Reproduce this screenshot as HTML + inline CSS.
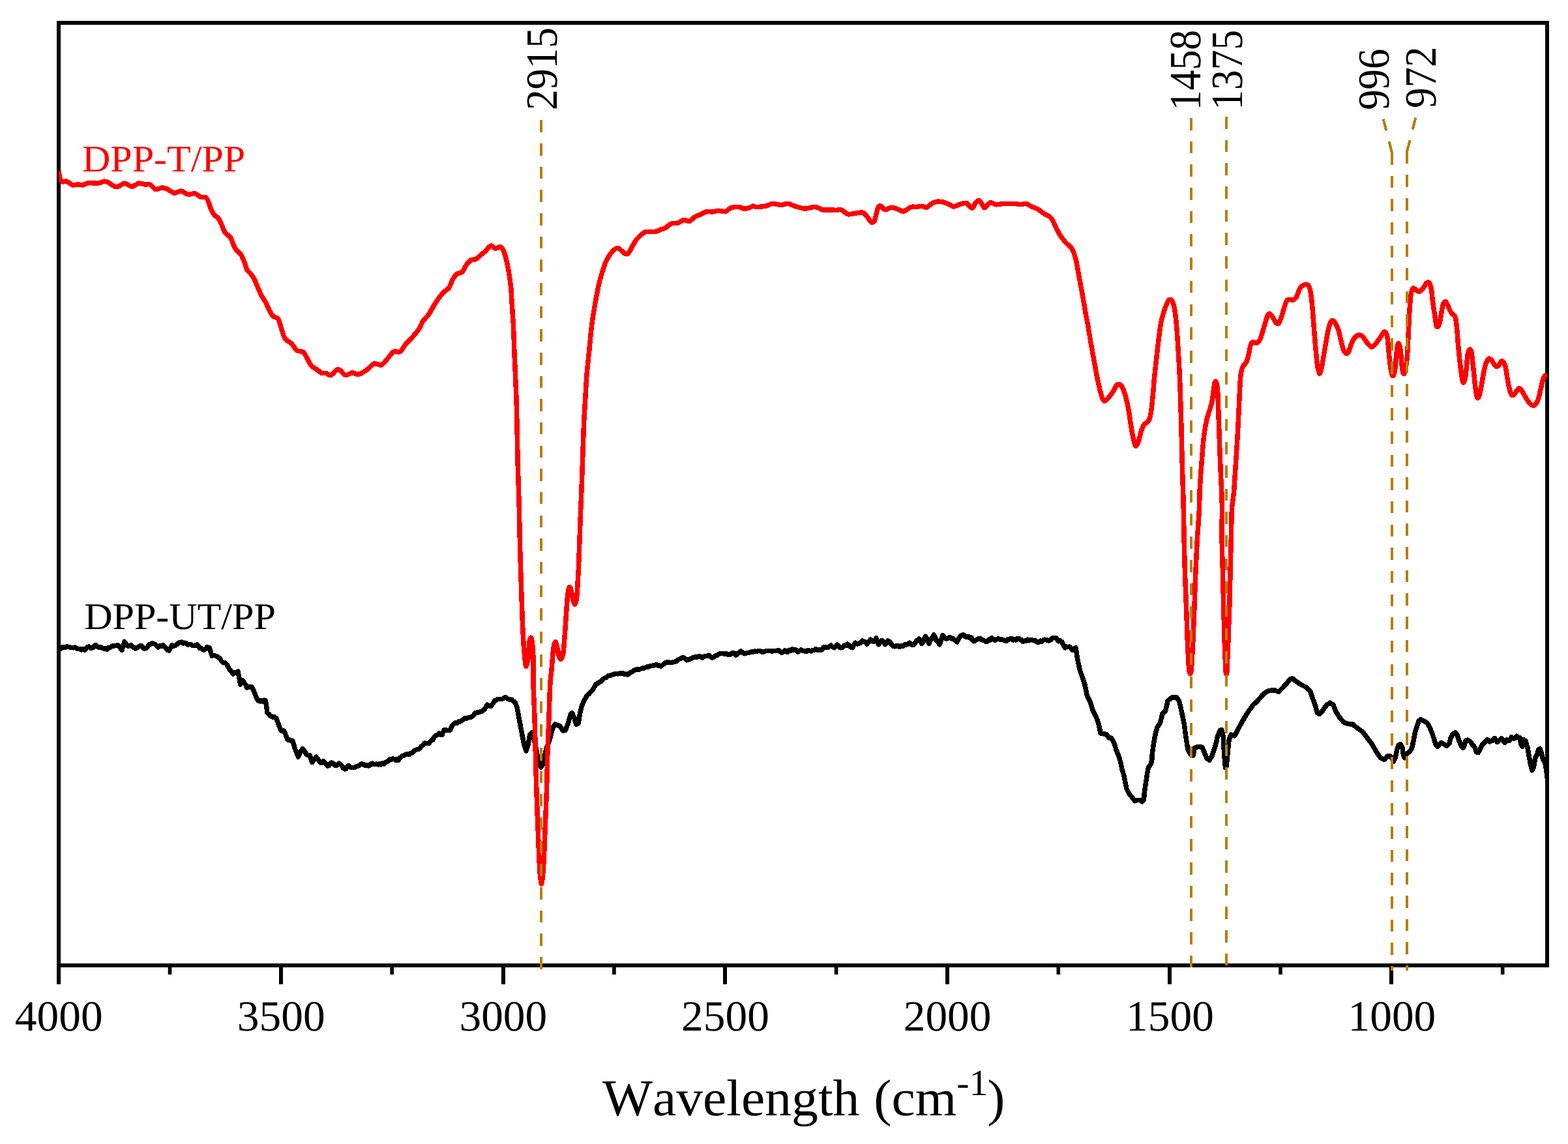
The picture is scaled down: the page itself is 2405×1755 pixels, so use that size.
<!DOCTYPE html>
<html lang="en"><head><meta charset="utf-8"><title>FTIR spectra of DPP-T/PP and DPP-UT/PP</title>
<style>
html,body{margin:0;padding:0;background:#fff;}
body{width:2405px;height:1755px;overflow:hidden;}
svg{display:block;}
text{font-family:"Liberation Serif", serif;font-kerning:none;font-variant-ligatures:none;text-rendering:geometricPrecision;}
.tk{font-size:66.2px;text-anchor:middle;fill:#000;}
.pk{font-size:68.6px;fill:#000;}
.lb{font-size:57.8px;}
.ttl{font-size:79.3px;fill:#000;}
.sup{font-size:55.0px;}
.ax{stroke:#000;fill:none;shape-rendering:crispEdges;}
.cv{fill:none;stroke-width:7.5;stroke-linejoin:round;stroke-linecap:butt;shape-rendering:crispEdges;}
.ds{fill:none;stroke:#b87d08;stroke-width:4.1;stroke-dasharray:18.6 17.06;shape-rendering:crispEdges;}
</style></head><body>
<svg width="2405" height="1755" viewBox="0 0 2405 1755" role="img" aria-label="FTIR spectra">
<rect x="0" y="0" width="2405" height="1755" fill="#fff"/>
<g id="axes">
<rect class="ax" x="90.2" y="35.2" width="2282.8" height="1445.7" stroke-width="5.9"/>
<rect x="87" y="1478" width="6" height="32" fill="#000" shape-rendering="crispEdges"/>
<rect x="257.7" y="1478" width="5.6" height="17" fill="#000"/>
<rect x="428" y="1478" width="6" height="32" fill="#000" shape-rendering="crispEdges"/>
<rect x="598.4" y="1478" width="5.6" height="17" fill="#000"/>
<rect x="769" y="1478" width="6" height="32" fill="#000" shape-rendering="crispEdges"/>
<rect x="939.1" y="1478" width="5.6" height="17" fill="#000"/>
<rect x="1109" y="1478" width="6" height="32" fill="#000" shape-rendering="crispEdges"/>
<rect x="1279.8" y="1478" width="5.6" height="17" fill="#000"/>
<rect x="1450" y="1478" width="6" height="32" fill="#000" shape-rendering="crispEdges"/>
<rect x="1620.5" y="1478" width="5.6" height="17" fill="#000"/>
<rect x="1791" y="1478" width="6" height="32" fill="#000" shape-rendering="crispEdges"/>
<rect x="1961.2" y="1478" width="5.6" height="17" fill="#000"/>
<rect x="2131" y="1478" width="6" height="32" fill="#000" shape-rendering="crispEdges"/>
<rect x="2301.9" y="1478" width="5.6" height="17" fill="#000"/>
</g>
<g id="ticklabels">
<text class="tk" transform="translate(90.20 1580.90) scale(1.0180 1)">4000</text>
<text class="tk" transform="translate(431.22 1580.90) scale(1.0180 1)">3500</text>
<text class="tk" transform="translate(771.83 1580.90) scale(1.0180 1)">3000</text>
<text class="tk" transform="translate(1112.45 1580.90) scale(1.0180 1)">2500</text>
<text class="tk" transform="translate(1453.07 1580.90) scale(1.0180 1)">2000</text>
<text class="tk" transform="translate(1794.48 1580.90) scale(1.0180 1)">1500</text>
<text class="tk" transform="translate(2134.90 1580.90) scale(1.0180 1)">1000</text>
</g>
<text id="xtitle" class="ttl" transform="translate(924.00 1710.50) scale(1.0295 1)">Wavelength <tspan x="404.30">(cm</tspan><tspan x="527.60" dy="-30.90" style="font-size:56.5px">-1</tspan><tspan x="573.38" dy="30.90">)</tspan></text>
<defs><clipPath id="plot"><rect x="90.2" y="35.2" width="2283.4" height="1445.7"/></clipPath></defs>
<g id="curves" clip-path="url(#plot)">
<path class="cv" stroke="#000" d="M91.2 997.5 L93.1 995.1 L95.0 993.0 L97.5 992.8 L100.0 993.6 L102.5 992.0 L105.0 992.3 L107.5 992.9 L110.0 993.6 L112.5 993.8 L115.0 993.2 L117.5 994.7 L120.0 995.5 L122.5 995.5 L125.0 997.0 L127.5 995.6 L130.0 997.5 L131.9 994.7 L133.8 993.0 L136.2 992.0 L138.8 994.4 L141.2 993.8 L143.3 993.1 L145.4 989.9 L147.5 990.0 L150.0 992.4 L152.5 993.4 L155.0 993.0 L157.2 994.3 L159.4 995.0 L161.6 994.4 L163.8 996.2 L166.2 993.5 L168.8 993.8 L171.2 991.2 L173.8 991.2 L175.9 990.3 L178.1 990.5 L180.3 989.8 L182.5 991.2 L184.8 994.3 L187.0 997.5 L190.8 984.2 L192.9 987.2 L195.0 990.5 L197.1 991.4 L199.2 990.2 L201.2 990.0 L203.3 992.1 L205.4 993.3 L207.5 995.0 L210.0 994.0 L212.5 991.9 L215.0 990.5 L217.2 990.8 L219.4 994.0 L221.6 995.0 L223.8 994.5 L226.2 992.6 L228.8 988.8 L230.8 988.8 L232.9 987.0 L235.0 987.0 L237.5 988.2 L240.0 990.4 L242.5 993.0 L245.0 990.5 L247.5 991.5 L250.0 989.5 L252.5 992.0 L255.0 995.0 L257.2 997.5 L259.5 998.0 L261.6 993.7 L263.8 990.0 L266.2 991.0 L268.8 990.2 L271.2 988.8 L273.8 986.0 L276.2 985.4 L278.8 985.0 L281.2 986.9 L283.8 986.2 L286.2 987.0 L288.4 989.3 L290.6 988.4 L292.8 988.3 L295.0 990.5 L297.5 990.3 L300.0 990.2 L302.5 988.8 L304.4 990.9 L306.2 994.5 L308.3 994.1 L310.4 995.7 L312.5 997.0 L315.0 996.1 L317.5 992.5 L319.4 993.9 L321.2 993.8 L325.0 1006.2 L327.5 1005.4 L330.0 1006.0 L332.5 1007.0 L335.0 1008.3 L337.5 1010.7 L340.0 1014.5 L342.5 1016.8 L345.0 1016.4 L347.5 1018.8 L350.0 1023.3 L352.5 1027.5 L355.0 1030.5 L357.5 1033.8 L360.0 1031.6 L362.5 1031.9 L365.0 1030.0 L368.8 1050.0 L370.6 1045.8 L372.5 1043.8 L374.6 1047.9 L376.7 1050.1 L378.8 1055.0 L381.2 1054.3 L383.8 1053.3 L386.2 1053.8 L388.8 1058.7 L391.2 1065.0 L393.8 1071.4 L396.2 1075.0 L398.5 1075.9 L400.8 1074.4 L403.0 1076.2 L405.2 1074.1 L407.5 1075.0 L410.0 1093.8 L412.1 1095.1 L414.2 1098.1 L416.2 1098.8 L418.8 1100.3 L421.2 1099.7 L423.8 1102.0 L430.0 1118.8 L432.1 1121.5 L434.2 1120.4 L436.2 1122.5 L441.2 1135.0 L443.8 1134.7 L446.2 1136.7 L448.8 1136.2 L452.5 1148.8 L457.5 1161.2 L459.6 1156.6 L461.7 1152.3 L463.8 1148.8 L465.8 1150.4 L467.9 1153.4 L470.0 1157.5 L472.5 1158.4 L475.0 1158.8 L478.8 1169.5 L480.8 1166.0 L482.9 1164.3 L485.0 1161.2 L487.1 1163.8 L489.2 1166.9 L491.2 1170.0 L493.8 1170.1 L496.2 1167.5 L498.3 1170.0 L500.4 1172.7 L502.5 1175.0 L504.6 1174.4 L506.7 1170.7 L508.8 1170.0 L511.2 1171.2 L513.8 1174.5 L515.8 1174.6 L517.9 1173.3 L520.0 1171.2 L522.2 1172.7 L524.4 1174.7 L526.6 1178.5 L528.8 1180.0 L530.8 1179.5 L532.9 1175.4 L535.0 1174.5 L537.5 1176.9 L540.0 1177.6 L542.5 1177.5 L545.0 1177.0 L547.5 1175.6 L550.0 1175.0 L552.5 1173.0 L555.0 1171.9 L557.5 1172.5 L560.0 1174.7 L562.5 1173.4 L565.0 1175.0 L567.1 1174.4 L569.2 1171.8 L571.2 1171.2 L573.4 1172.7 L575.6 1172.4 L577.8 1171.9 L580.0 1173.0 L582.2 1171.8 L584.4 1173.2 L586.6 1171.0 L588.8 1172.0 L590.9 1169.4 L593.1 1168.7 L595.3 1167.8 L597.5 1165.0 L600.0 1165.2 L602.5 1164.0 L605.0 1164.5 L607.1 1166.3 L609.2 1164.8 L611.2 1166.2 L613.3 1162.5 L615.4 1161.1 L617.5 1159.5 L620.0 1158.8 L622.5 1157.2 L625.0 1157.0 L627.5 1157.5 L629.6 1155.9 L631.7 1155.2 L633.8 1153.8 L635.8 1151.2 L637.9 1150.5 L640.0 1149.5 L642.1 1149.2 L644.2 1147.9 L646.2 1145.0 L648.8 1143.0 L651.2 1140.0 L653.3 1140.7 L655.4 1140.6 L657.5 1140.5 L659.6 1138.0 L661.7 1136.0 L663.8 1135.0 L665.6 1131.0 L667.5 1128.8 L669.6 1128.2 L671.7 1126.6 L673.8 1125.0 L675.9 1127.1 L678.0 1127.5 L681.2 1120.0 L683.4 1119.3 L685.6 1120.5 L687.8 1120.3 L690.0 1120.5 L691.9 1116.9 L693.8 1112.5 L696.2 1110.3 L698.8 1108.8 L701.2 1109.1 L703.8 1106.8 L706.2 1107.0 L708.3 1105.4 L710.4 1104.1 L712.5 1102.0 L714.8 1102.2 L717.0 1101.4 L719.2 1100.9 L721.5 1100.5 L723.8 1099.5 L726.2 1097.4 L728.8 1093.8 L731.2 1092.9 L733.8 1092.9 L736.2 1092.0 L738.8 1091.2 L741.2 1089.7 L743.8 1087.5 L745.6 1084.2 L747.5 1081.2 L749.6 1082.4 L751.7 1083.1 L753.8 1083.0 L756.2 1079.1 L758.8 1075.0 L761.2 1074.0 L763.8 1072.5 L765.8 1072.3 L767.9 1072.6 L770.0 1072.5 L772.1 1071.4 L774.2 1070.0 L776.5 1070.2 L778.8 1072.0 L780.8 1072.7 L782.9 1073.7 L785.0 1073.2 L787.5 1076.1 L790.0 1077.5 L793.0 1085.0 L796.2 1102.5 L800.0 1122.5 L803.8 1142.5 L807.0 1152.0 L810.0 1142.5 L812.5 1127.5 L815.8 1123.8 L818.8 1132.5 L822.5 1150.0 L826.2 1170.0 L830.0 1177.0 L833.8 1170.0 L837.5 1150.0 L843.8 1132.5 L847.5 1117.5 L851.2 1111.2 L858.8 1113.8 L863.8 1121.2 L867.5 1120.0 L872.0 1107.5 L875.0 1096.2 L877.5 1093.8 L880.5 1100.0 L883.8 1111.2 L887.0 1110.0 L890.0 1092.5 L892.5 1082.5 L896.2 1073.8 L901.2 1066.2 L903.8 1064.1 L906.2 1061.1 L908.8 1058.8 L911.2 1054.7 L913.8 1050.0 L915.8 1048.9 L917.9 1047.4 L920.0 1046.2 L922.5 1044.8 L925.0 1041.6 L927.5 1040.2 L930.0 1039.4 L932.5 1037.0 L935.0 1036.5 L937.5 1035.8 L940.0 1034.8 L942.5 1034.0 L945.0 1033.3 L947.5 1033.8 L950.0 1033.2 L952.5 1033.2 L955.0 1032.8 L957.5 1034.2 L960.0 1034.1 L962.5 1035.2 L965.0 1032.8 L967.5 1031.6 L970.0 1030.5 L972.5 1028.5 L975.0 1027.4 L977.5 1026.7 L980.0 1027.2 L982.5 1026.2 L985.0 1025.2 L987.5 1025.2 L990.0 1024.0 L992.3 1023.1 L994.6 1023.0 L997.0 1021.6 L999.3 1021.3 L1001.6 1021.2 L1003.9 1020.8 L1006.2 1019.5 L1008.8 1020.9 L1011.2 1021.0 L1013.8 1022.0 L1016.2 1020.3 L1018.8 1018.1 L1021.2 1016.5 L1023.5 1015.7 L1025.8 1016.1 L1028.1 1016.4 L1030.4 1016.2 L1032.7 1015.8 L1035.0 1015.2 L1037.5 1014.6 L1040.0 1012.2 L1042.5 1010.7 L1045.0 1009.8 L1047.5 1008.5 L1049.6 1009.6 L1051.7 1010.9 L1053.8 1012.8 L1055.9 1011.7 L1058.1 1011.1 L1060.3 1009.9 L1062.5 1009.0 L1065.0 1008.1 L1067.5 1008.3 L1070.0 1007.8 L1072.5 1006.5 L1075.0 1007.7 L1077.5 1009.0 L1079.7 1007.4 L1081.9 1006.4 L1084.1 1006.7 L1086.2 1005.2 L1088.3 1005.8 L1090.4 1008.1 L1092.5 1009.0 L1095.0 1007.7 L1097.5 1006.0 L1100.0 1005.3 L1102.5 1003.5 L1105.0 1002.5 L1107.5 1002.5 L1110.0 1002.8 L1112.5 1003.3 L1115.0 1003.2 L1117.5 1004.5 L1120.0 1004.0 L1122.5 1002.1 L1125.0 1001.5 L1126.9 1002.8 L1128.8 1005.2 L1131.2 1002.5 L1133.8 1001.3 L1136.2 999.0 L1138.8 1000.8 L1141.2 1002.8 L1143.5 1002.3 L1145.8 1001.8 L1148.0 1001.4 L1150.2 1001.0 L1152.5 999.8 L1155.0 1000.3 L1157.5 998.8 L1160.0 999.7 L1162.5 998.8 L1165.0 998.3 L1167.5 999.7 L1170.0 1000.4 L1172.5 999.8 L1175.0 998.5 L1177.5 998.6 L1180.0 998.5 L1182.5 998.8 L1184.8 999.1 L1187.0 998.3 L1189.2 998.3 L1191.5 998.5 L1193.8 997.5 L1196.2 999.1 L1198.8 1001.2 L1201.2 1000.5 L1203.8 998.0 L1206.2 1000.2 L1208.8 1000.0 L1210.8 997.3 L1212.9 998.5 L1215.0 995.8 L1217.5 997.0 L1220.0 997.0 L1221.9 997.4 L1223.8 1000.0 L1226.2 998.4 L1228.8 997.0 L1231.2 998.3 L1233.8 998.8 L1236.2 999.7 L1238.8 997.9 L1241.2 998.2 L1243.8 998.9 L1246.2 997.5 L1248.8 997.4 L1251.2 995.5 L1253.8 997.5 L1256.2 996.7 L1258.8 997.5 L1260.8 996.3 L1262.9 993.3 L1265.0 992.5 L1267.1 993.2 L1269.2 993.5 L1271.2 992.5 L1274.5 990.0 L1277.0 992.3 L1279.5 993.8 L1281.6 992.2 L1283.8 989.2 L1286.2 990.6 L1288.8 993.8 L1290.8 993.7 L1292.9 992.7 L1295.0 990.0 L1297.5 990.6 L1300.0 988.2 L1302.5 990.2 L1305.0 992.8 L1307.5 993.8 L1309.8 989.5 L1312.0 986.2 L1314.8 987.9 L1317.5 987.0 L1320.2 986.1 L1323.0 983.0 L1325.3 984.2 L1327.7 985.1 L1330.0 988.0 L1332.5 984.4 L1335.0 981.2 L1337.5 983.0 L1340.0 984.5 L1341.9 982.4 L1343.8 978.8 L1347.5 988.8 L1350.0 985.6 L1352.5 982.5 L1355.0 984.2 L1357.5 988.8 L1359.8 986.8 L1362.0 983.0 L1364.8 984.6 L1367.5 988.8 L1370.0 991.1 L1372.5 991.8 L1375.0 990.7 L1377.5 991.1 L1380.0 992.3 L1382.5 990.3 L1385.0 991.2 L1387.5 988.9 L1390.0 988.8 L1392.5 988.2 L1395.0 986.2 L1397.8 988.9 L1400.5 989.5 L1403.4 986.6 L1406.2 982.5 L1408.1 982.6 L1410.0 980.0 L1411.9 983.7 L1413.8 987.5 L1416.6 983.2 L1419.5 976.2 L1422.2 980.6 L1425.0 987.5 L1427.2 982.3 L1429.5 978.8 L1432.5 973.8 L1434.4 978.2 L1436.2 982.5 L1438.8 985.0 L1441.2 988.8 L1445.8 974.5 L1448.5 977.9 L1451.2 980.0 L1453.8 979.2 L1456.2 977.5 L1458.3 978.4 L1460.4 980.2 L1462.5 980.0 L1465.2 982.7 L1468.0 985.0 L1470.2 980.1 L1472.5 976.2 L1475.0 974.6 L1477.5 973.8 L1479.6 975.9 L1481.7 977.1 L1483.8 977.0 L1485.8 976.5 L1487.9 978.9 L1490.0 978.2 L1491.9 982.4 L1493.8 983.8 L1496.2 982.4 L1498.8 981.1 L1501.2 979.5 L1503.3 979.4 L1505.4 981.3 L1507.5 982.0 L1509.6 982.8 L1511.7 984.0 L1513.8 984.5 L1516.2 981.2 L1518.8 982.1 L1521.2 978.8 L1523.8 980.7 L1526.2 982.5 L1528.8 980.7 L1531.2 979.5 L1533.3 981.0 L1535.4 980.9 L1537.5 981.2 L1539.6 981.9 L1541.7 983.2 L1543.8 983.2 L1545.8 980.7 L1547.9 980.9 L1550.0 979.5 L1552.1 979.8 L1554.2 982.0 L1556.2 981.2 L1558.3 981.9 L1560.4 979.4 L1562.5 979.5 L1564.6 981.1 L1566.7 981.7 L1568.8 984.5 L1571.2 983.2 L1573.8 983.3 L1576.2 981.2 L1578.4 982.8 L1580.6 981.8 L1582.8 981.6 L1585.0 982.5 L1587.2 982.2 L1589.4 984.1 L1591.6 985.7 L1593.8 985.0 L1595.8 983.1 L1597.9 984.2 L1600.0 982.5 L1602.2 981.2 L1604.4 981.8 L1606.6 982.1 L1608.8 983.0 L1610.8 982.1 L1612.9 979.6 L1615.0 978.8 L1617.5 978.3 L1620.0 978.8 L1621.9 981.6 L1623.8 983.8 L1626.2 982.9 L1628.8 984.5 L1631.2 989.8 L1633.8 993.8 L1635.8 992.0 L1637.9 992.6 L1640.0 992.0 L1642.5 994.0 L1645.0 997.5 L1647.5 994.7 L1650.0 993.8 L1652.5 1010.0 L1656.2 1027.5 L1660.0 1038.8 L1663.8 1050.0 L1667.5 1067.5 L1672.5 1077.5 L1676.2 1090.0 L1681.2 1100.0 L1685.0 1110.0 L1688.0 1125.0 L1690.0 1125.5 L1697.0 1126.5 L1701.0 1132.0 L1704.4 1132.0 L1708.9 1140.0 L1711.9 1149.9 L1715.9 1159.9 L1718.9 1169.9 L1720.9 1179.9 L1723.9 1189.9 L1725.9 1199.9 L1727.9 1209.9 L1731.9 1217.9 L1736.9 1223.8 L1740.9 1228.8 L1744.9 1227.3 L1748.9 1227.3 L1751.9 1229.8 L1754.4 1226.8 L1755.4 1214.9 L1756.9 1204.9 L1758.4 1194.9 L1759.9 1184.9 L1761.4 1177.9 L1765.4 1171.9 L1766.9 1164.9 L1767.4 1154.9 L1768.9 1144.9 L1770.4 1135.0 L1772.4 1125.0 L1774.9 1116.0 L1778.9 1110.0 L1781.9 1100.0 L1782.5 1095.0 L1787.5 1091.2 L1791.2 1075.0 L1797.5 1070.0 L1805.0 1070.0 L1808.8 1076.2 L1812.5 1092.5 L1816.2 1110.0 L1818.8 1130.0 L1822.0 1150.0 L1826.2 1157.5 L1830.0 1158.8 L1832.5 1147.5 L1837.5 1145.5 L1843.8 1146.2 L1847.5 1155.0 L1851.2 1163.8 L1855.0 1166.2 L1858.8 1160.0 L1863.8 1145.0 L1867.5 1130.0 L1871.2 1120.5 L1873.8 1119.5 L1876.2 1130.0 L1877.5 1155.0 L1879.5 1177.5 L1881.2 1175.0 L1883.0 1155.0 L1885.0 1135.0 L1888.0 1127.0 L1893.8 1128.8 L1898.8 1118.8 L1905.0 1107.5 L1912.5 1095.0 L1921.2 1082.5 L1930.0 1073.8 L1938.8 1063.8 L1946.2 1059.5 L1955.0 1058.8 L1961.2 1061.2 L1967.5 1055.0 L1973.8 1048.0 L1978.8 1042.0 L1982.5 1040.8 L1987.5 1045.0 L1995.0 1050.0 L2002.5 1053.8 L2009.5 1060.0 L2013.8 1072.5 L2017.5 1082.5 L2020.5 1093.8 L2023.8 1095.5 L2028.8 1090.0 L2035.0 1081.2 L2040.0 1078.2 L2045.0 1081.2 L2048.8 1091.2 L2055.0 1101.2 L2061.2 1108.0 L2067.5 1110.5 L2075.0 1111.2 L2082.5 1117.5 L2090.0 1122.5 L2097.5 1132.5 L2105.0 1142.5 L2111.2 1153.8 L2117.5 1162.5 L2122.5 1165.0 L2123.8 1165.0 L2127.6 1160.5 L2130.6 1159.3 L2134.4 1162.0 L2137.4 1168.0 L2140.4 1162.0 L2142.7 1149.9 L2145.0 1143.1 L2148.0 1141.6 L2151.0 1146.9 L2152.5 1159.0 L2154.5 1162.7 L2157.8 1155.9 L2161.6 1153.7 L2165.4 1148.4 L2167.7 1137.8 L2170.7 1122.6 L2173.7 1113.6 L2176.0 1106.0 L2179.0 1103.7 L2183.6 1106.0 L2188.9 1109.0 L2192.6 1115.1 L2196.4 1124.2 L2199.4 1133.2 L2202.5 1143.1 L2204.7 1145.3 L2207.8 1142.3 L2210.8 1139.3 L2214.6 1141.6 L2219.1 1144.6 L2222.9 1140.8 L2225.2 1131.7 L2228.2 1126.4 L2232.0 1123.7 L2235.0 1127.2 L2238.0 1136.3 L2241.1 1143.8 L2244.1 1147.6 L2246.4 1142.3 L2247.9 1136.3 L2250.9 1135.2 L2254.7 1137.0 L2258.5 1142.3 L2262.3 1146.9 L2264.5 1153.7 L2267.5 1154.4 L2270.6 1148.4 L2273.6 1142.3 L2275.5 1140.5 L2277.4 1138.5 L2279.3 1136.5 L2281.2 1134.7 L2283.1 1136.0 L2285.0 1137.8 L2286.8 1136.9 L2288.7 1136.3 L2290.6 1134.4 L2292.5 1132.5 L2294.4 1134.9 L2296.3 1138.5 L2298.2 1136.5 L2300.1 1135.5 L2303.1 1132.5 L2305.4 1136.1 L2307.7 1139.3 L2309.5 1137.3 L2311.4 1134.7 L2313.3 1135.6 L2315.2 1136.3 L2318.2 1131.0 L2320.5 1132.7 L2322.8 1133.2 L2324.7 1131.5 L2326.6 1129.4 L2328.8 1131.2 L2331.1 1131.7 L2332.6 1140.8 L2334.9 1145.3 L2337.2 1134.7 L2340.2 1137.0 L2343.2 1148.4 L2345.5 1162.0 L2347.8 1174.1 L2350.0 1181.7 L2352.3 1177.1 L2354.6 1163.5 L2357.6 1157.4 L2359.9 1149.9 L2362.1 1148.4 L2364.4 1155.9 L2366.7 1165.0 L2369.7 1169.6 L2372.0 1183.2 L2373.0 1193.8"/>
<path class="cv" stroke="#f00" d="M90.0 262.5 C90.3 264.2 91.7 272.8 92.5 275.0 C93.3 277.2 94.9 278.3 96.2 278.8 C97.6 279.2 100.5 277.6 102.5 278.2 C104.5 278.9 109.1 283.1 111.2 283.8 C113.4 284.4 116.6 283.0 118.8 283.0 C120.9 283.0 125.2 284.1 127.5 283.8 C129.8 283.4 133.2 280.8 136.2 280.5 C139.2 280.2 146.8 281.6 150.0 281.2 C153.2 280.9 157.8 278.4 160.0 278.2 C162.2 278.1 164.1 278.9 166.2 280.0 C168.4 281.1 174.1 285.5 176.2 286.2 C178.4 287.0 180.5 286.4 182.5 285.8 C184.5 285.1 188.6 281.2 191.2 281.2 C193.9 281.3 199.7 286.2 202.5 286.2 C205.3 286.2 209.8 281.7 212.5 281.2 C215.2 280.8 220.2 282.8 222.5 283.0 C224.8 283.2 227.8 282.0 230.0 283.0 C232.2 284.0 236.2 289.8 238.8 290.5 C241.2 291.2 246.2 288.0 248.8 288.0 C251.2 288.0 255.0 289.4 257.5 290.5 C260.0 291.6 264.8 295.9 267.5 296.2 C270.2 296.6 274.7 292.7 277.5 293.0 C280.3 293.3 285.9 297.8 288.8 298.2 C291.6 298.8 296.2 296.2 298.8 296.8 C301.2 297.2 305.3 301.2 307.5 302.0 C309.7 302.8 313.5 301.8 315.0 302.5 C316.5 303.2 317.6 305.0 318.8 307.5 C319.9 310.0 322.4 318.2 323.8 321.2 C325.1 324.2 327.2 328.2 328.8 330.0 C330.2 331.8 333.5 333.0 335.0 335.0 C336.5 337.0 338.7 342.2 340.0 345.0 C341.3 347.8 343.2 353.6 345.0 356.2 C346.8 358.9 351.9 362.2 353.8 365.0 C355.6 367.8 357.4 374.8 358.8 377.5 C360.1 380.2 362.2 383.2 363.8 385.0 C365.2 386.8 368.5 388.9 370.0 391.2 C371.5 393.6 373.8 399.5 375.0 402.5 C376.2 405.5 377.1 410.9 378.8 413.8 C380.4 416.6 385.3 420.2 387.5 423.8 C389.7 427.2 393.2 436.0 395.0 440.0 C396.8 444.0 399.6 450.6 401.2 453.8 C402.9 456.9 405.8 460.6 407.5 463.8 C409.2 466.9 412.2 474.7 413.8 477.5 C415.2 480.3 417.1 483.5 418.8 485.0 C420.4 486.5 424.8 486.9 426.2 488.8 C427.8 490.6 428.8 495.2 430.0 498.8 C431.2 502.2 433.8 512.0 435.0 515.0 C436.2 518.0 437.1 519.6 438.8 521.2 C440.4 522.9 445.3 525.3 447.5 527.5 C449.7 529.7 452.7 535.8 455.0 537.5 C457.3 539.2 462.8 538.3 465.0 540.0 C467.2 541.7 469.6 547.2 471.2 550.0 C472.9 552.8 475.7 559.1 477.5 561.2 C479.3 563.4 482.8 564.8 485.0 566.2 C487.2 567.8 491.8 571.7 493.8 572.5 C495.8 573.3 498.2 572.1 500.0 572.5 C501.8 572.9 505.3 576.4 507.5 575.8 C509.7 575.1 514.4 568.6 516.2 567.5 C518.1 566.4 519.4 566.4 521.2 567.5 C523.1 568.6 527.5 575.2 530.0 575.8 C532.5 576.3 537.3 572.0 540.0 571.8 C542.7 571.5 547.0 574.8 550.0 574.2 C553.0 573.7 559.3 569.7 562.5 567.5 C565.7 565.3 570.8 559.0 573.8 558.0 C576.8 557.0 582.5 560.7 585.0 560.0 C587.5 559.3 590.0 555.2 592.5 552.5 C595.0 549.8 600.9 541.2 603.8 539.5 C606.6 537.8 611.2 541.1 613.8 539.5 C616.2 537.9 620.3 530.1 622.5 527.5 C624.7 524.9 627.3 523.0 630.0 520.0 C632.7 517.0 640.0 508.7 642.5 505.0 C645.0 501.3 646.8 495.5 648.8 492.5 C650.8 489.5 655.2 485.8 657.5 482.5 C659.8 479.2 664.1 471.0 666.2 467.5 C668.4 464.0 671.8 458.9 673.8 456.2 C675.8 453.6 679.2 449.5 681.2 447.5 C683.2 445.5 686.9 443.9 688.8 441.2 C690.6 438.6 693.3 430.3 695.0 427.5 C696.7 424.7 699.4 421.3 701.2 420.0 C703.1 418.7 706.8 419.5 708.8 417.5 C710.8 415.5 714.4 407.5 716.2 405.0 C718.1 402.5 720.7 399.8 722.5 398.8 C724.3 397.8 727.8 398.7 730.0 397.5 C732.2 396.3 736.8 391.7 738.8 390.0 C740.8 388.3 743.5 386.5 745.0 385.0 C746.5 383.5 748.8 379.8 750.0 378.8 C751.2 377.7 752.4 376.7 753.8 377.0 C755.1 377.3 758.3 381.0 760.0 381.2 C761.7 381.5 764.8 378.6 766.2 378.8 C767.8 378.9 770.1 380.7 771.2 382.5 C772.4 384.3 773.8 388.2 775.0 392.5 C776.2 396.8 778.8 408.3 780.0 415.0 C781.2 421.7 783.0 434.5 783.8 442.5 C784.5 450.5 785.2 467.3 785.8 475.0 C786.2 482.7 787.1 491.7 787.5 500.0 C787.9 508.3 788.4 527.5 788.8 537.5 C789.1 547.5 790.1 565.0 790.5 575.0 C790.9 585.0 791.6 600.8 792.0 612.5 C792.4 624.2 793.0 649.7 793.2 663.0 C793.5 676.3 793.9 697.6 794.2 712.5 C794.6 727.4 795.8 758.3 796.2 775.0 C796.7 791.7 797.1 820.8 797.5 837.5 C797.9 854.2 799.0 885.0 799.5 900.0 C800.0 915.0 800.8 938.3 801.2 950.0 C801.7 961.7 802.5 979.5 803.0 987.5 C803.5 995.5 804.5 1005.3 805.0 1010.0 C805.5 1014.7 806.3 1022.5 807.0 1022.5 C807.7 1022.5 809.3 1015.0 810.0 1010.0 C810.7 1005.0 811.4 989.3 812.0 985.0 C812.6 980.7 813.7 978.0 814.2 978.0 C814.8 978.0 815.8 980.4 816.2 985.0 C816.8 989.6 817.8 1003.8 818.0 1012.5 C818.2 1021.2 817.7 1038.3 818.0 1050.0 C818.3 1061.7 819.6 1086.7 820.0 1100.0 C820.4 1113.3 820.9 1136.7 821.2 1150.0 C821.6 1163.3 822.1 1186.7 822.5 1200.0 C822.9 1213.3 823.8 1236.7 824.2 1250.0 C824.8 1263.3 825.8 1288.3 826.2 1300.0 C826.8 1311.7 827.4 1330.0 828.0 1337.5 C828.6 1345.0 829.8 1356.2 830.5 1356.2 C831.2 1356.2 832.4 1345.0 833.0 1337.5 C833.6 1330.0 834.5 1311.7 835.0 1300.0 C835.5 1288.3 836.5 1263.3 837.0 1250.0 C837.5 1236.7 838.4 1213.3 838.8 1200.0 C839.1 1186.7 839.6 1163.3 840.0 1150.0 C840.4 1136.7 841.5 1113.3 842.0 1100.0 C842.5 1086.7 843.2 1060.0 843.8 1050.0 C844.3 1040.0 845.6 1032.3 846.2 1025.0 C846.9 1017.7 848.0 1000.4 848.8 995.0 C849.5 989.6 850.9 984.5 851.8 984.5 C852.6 984.5 854.2 991.9 855.0 995.0 C855.8 998.1 856.8 1005.3 857.5 1007.5 C858.2 1009.7 859.7 1011.9 860.5 1011.2 C861.3 1010.6 863.0 1007.3 863.8 1002.5 C864.5 997.7 865.6 983.7 866.2 975.0 C866.9 966.3 868.2 945.5 868.8 937.5 C869.3 929.5 870.0 919.7 870.5 915.0 C871.0 910.3 872.0 904.4 872.5 902.5 C873.0 900.6 873.6 899.8 874.2 900.8 C874.9 901.8 876.3 907.1 877.0 910.0 C877.7 912.9 878.8 920.2 879.5 922.5 C880.2 924.8 881.3 927.7 882.0 927.0 C882.7 926.3 883.9 922.1 884.5 917.5 C885.1 912.9 885.8 901.5 886.2 892.5 C886.8 883.5 887.8 862.3 888.2 850.0 C888.8 837.7 889.5 813.3 890.0 800.0 C890.5 786.7 891.5 763.3 892.0 750.0 C892.5 736.7 893.3 713.3 893.8 700.0 C894.2 686.7 895.1 660.0 895.5 650.0 C895.9 640.0 896.4 635.0 897.0 625.0 C897.6 615.0 899.1 586.7 900.0 575.0 C900.9 563.3 902.8 547.5 903.8 537.5 C904.8 527.5 906.3 509.3 907.5 500.0 C908.7 490.7 911.3 474.5 912.5 467.5 C913.7 460.5 915.2 452.5 916.2 447.5 C917.2 442.5 919.0 434.0 920.0 430.0 C921.0 426.0 922.6 421.2 923.8 417.5 C924.9 413.8 927.2 406.0 928.8 402.5 C930.2 399.0 933.3 393.8 935.0 391.2 C936.7 388.8 939.6 385.2 941.2 383.8 C942.9 382.3 945.8 380.3 947.5 380.5 C949.2 380.7 952.2 383.8 953.8 385.0 C955.2 386.2 957.4 388.8 958.8 389.2 C960.1 389.8 962.2 390.3 963.8 388.8 C965.2 387.2 968.3 380.3 970.0 377.5 C971.7 374.7 974.4 369.8 976.2 367.5 C978.1 365.2 981.8 361.6 983.8 360.0 C985.8 358.4 988.4 356.1 991.2 355.5 C994.1 354.9 1002.0 356.0 1005.0 355.5 C1008.0 355.0 1011.8 352.7 1013.8 352.0 C1015.8 351.3 1017.8 351.2 1020.0 350.0 C1022.2 348.8 1027.3 344.1 1030.0 343.0 C1032.7 341.9 1037.5 342.7 1040.0 342.0 C1042.5 341.3 1046.4 337.8 1048.8 337.5 C1051.1 337.2 1055.3 340.1 1057.5 339.5 C1059.7 338.9 1062.7 334.4 1065.0 333.0 C1067.3 331.6 1072.5 329.9 1075.0 328.8 C1077.5 327.6 1081.4 325.0 1083.8 324.5 C1086.1 324.0 1090.0 325.2 1092.5 325.0 C1095.0 324.8 1099.8 323.3 1102.5 323.2 C1105.2 323.2 1110.0 325.1 1112.5 324.5 C1115.0 323.9 1118.4 319.7 1121.2 318.8 C1124.1 317.8 1131.2 317.3 1133.8 317.5 C1136.2 317.7 1138.2 319.7 1140.0 320.0 C1141.8 320.3 1145.5 320.0 1147.5 319.5 C1149.5 319.0 1153.3 316.5 1155.0 316.2 C1156.7 316.0 1157.5 317.5 1160.0 317.5 C1162.5 317.5 1170.4 316.9 1173.8 316.2 C1177.1 315.6 1181.8 312.7 1185.0 312.5 C1188.2 312.3 1194.3 314.5 1197.5 314.5 C1200.7 314.5 1205.6 312.2 1208.8 312.5 C1211.9 312.8 1217.8 316.0 1221.2 317.0 C1224.8 318.0 1231.2 319.9 1235.0 320.0 C1238.8 320.1 1246.3 317.2 1250.0 317.5 C1253.7 317.8 1259.3 321.4 1262.5 322.0 C1265.7 322.6 1271.1 321.7 1273.8 321.8 C1276.4 321.8 1280.3 322.5 1282.5 322.5 C1284.7 322.5 1287.5 320.9 1290.0 321.8 C1292.5 322.6 1298.2 328.1 1301.2 328.8 C1304.2 329.4 1309.5 327.3 1312.5 327.0 C1315.5 326.7 1321.4 325.5 1323.8 326.2 C1326.1 327.0 1328.3 330.6 1330.0 332.5 C1331.7 334.4 1334.8 339.9 1336.2 340.8 C1337.8 341.6 1339.9 341.5 1341.2 338.8 C1342.6 336.0 1345.0 323.1 1346.2 320.0 C1347.5 316.9 1349.0 315.5 1350.5 315.8 C1352.0 316.0 1355.2 321.4 1357.5 321.8 C1359.8 322.1 1364.8 318.3 1367.5 318.2 C1370.2 318.2 1375.0 320.4 1377.5 321.2 C1380.0 322.1 1383.6 324.8 1386.2 324.2 C1388.9 323.8 1394.8 318.4 1397.5 317.5 C1400.2 316.6 1404.1 317.7 1406.2 317.5 C1408.4 317.3 1411.8 316.1 1413.8 316.2 C1415.8 316.4 1419.1 318.9 1421.2 318.2 C1423.4 317.6 1427.8 312.9 1430.0 311.8 C1432.2 310.6 1435.3 309.5 1437.5 309.2 C1439.7 309.0 1443.9 309.5 1446.2 310.0 C1448.6 310.5 1452.8 312.3 1455.0 313.2 C1457.2 314.2 1460.3 316.9 1462.5 317.0 C1464.7 317.1 1468.8 314.5 1471.2 313.8 C1473.8 313.0 1479.4 311.2 1481.2 311.2 C1483.1 311.2 1483.7 312.6 1485.0 313.8 C1486.3 314.9 1489.8 319.8 1491.2 319.5 C1492.8 319.2 1494.9 312.9 1496.2 311.2 C1497.6 309.6 1500.1 307.5 1501.2 307.5 C1502.4 307.5 1503.8 309.8 1505.0 311.2 C1506.2 312.8 1508.5 318.6 1510.0 318.8 C1511.5 318.9 1514.9 313.6 1516.2 312.5 C1517.6 311.4 1518.5 310.6 1520.0 310.8 C1521.5 310.9 1524.8 313.5 1527.5 313.8 C1530.2 314.0 1536.0 312.7 1540.0 312.5 C1544.0 312.3 1554.2 312.3 1557.5 312.5 C1560.8 312.7 1562.8 313.8 1565.0 313.8 C1567.2 313.8 1571.4 312.1 1573.8 312.5 C1576.1 312.9 1580.0 315.8 1582.5 317.0 C1585.0 318.2 1590.2 319.9 1592.5 321.2 C1594.8 322.6 1597.7 325.5 1600.0 327.0 C1602.3 328.5 1608.0 330.9 1610.0 332.5 C1612.0 334.1 1613.7 336.4 1615.0 338.8 C1616.3 341.1 1618.5 347.0 1620.0 350.0 C1621.5 353.0 1624.4 358.4 1626.2 361.2 C1628.1 364.1 1631.4 368.6 1633.8 371.2 C1636.1 373.9 1641.6 377.8 1643.8 381.2 C1645.9 384.8 1648.7 392.7 1650.0 397.5 C1651.3 402.3 1652.8 412.2 1653.8 417.5 C1654.8 422.8 1656.5 432.2 1657.5 437.5 C1658.5 442.8 1660.2 451.8 1661.2 457.5 C1662.2 463.2 1664.0 474.3 1665.0 480.0 C1666.0 485.7 1667.8 494.3 1668.8 500.0 C1669.8 505.7 1671.3 515.8 1672.5 522.5 C1673.7 529.2 1676.2 542.7 1677.5 550.0 C1678.8 557.3 1681.2 570.8 1682.5 577.5 C1683.8 584.2 1686.3 595.4 1687.5 600.0 C1688.7 604.6 1690.2 610.0 1691.2 612.0 C1692.2 614.0 1693.7 615.4 1695.0 615.0 C1696.3 614.6 1699.6 610.8 1701.2 608.8 C1702.9 606.8 1706.0 602.3 1707.5 600.0 C1709.0 597.7 1711.3 592.6 1712.5 591.2 C1713.7 589.9 1715.6 589.2 1716.8 589.5 C1717.9 589.8 1720.0 591.4 1721.2 593.8 C1722.5 596.1 1724.9 602.7 1726.2 607.5 C1727.6 612.3 1730.1 623.7 1731.2 630.0 C1732.4 636.3 1734.0 649.0 1735.0 655.0 C1736.0 661.0 1737.8 671.1 1738.8 675.0 C1739.7 678.9 1741.0 684.2 1742.0 684.5 C1743.0 684.8 1745.2 680.4 1746.2 677.5 C1747.3 674.6 1748.8 666.0 1750.0 662.5 C1751.2 659.0 1753.5 653.4 1755.0 651.2 C1756.5 649.1 1759.9 648.4 1761.2 646.2 C1762.6 644.1 1764.1 639.8 1765.0 635.0 C1765.9 630.2 1767.3 617.3 1768.0 610.0 C1768.7 602.7 1769.7 588.0 1770.5 580.0 C1771.3 572.0 1772.8 558.3 1773.8 550.0 C1774.7 541.7 1776.5 525.2 1777.5 517.5 C1778.5 509.8 1780.1 498.2 1781.2 492.5 C1782.4 486.8 1784.9 479.0 1786.2 475.0 C1787.6 471.0 1790.1 464.6 1791.2 462.5 C1792.4 460.4 1794.0 459.3 1795.0 459.5 C1796.0 459.7 1797.8 461.0 1798.8 463.8 C1799.8 466.5 1801.7 474.5 1802.5 480.0 C1803.3 485.5 1804.3 496.7 1805.0 505.0 C1805.7 513.3 1806.9 532.5 1807.5 542.5 C1808.1 552.5 1809.0 568.3 1809.5 580.0 C1810.0 591.7 1810.8 616.7 1811.2 630.0 C1811.7 643.3 1812.2 666.7 1812.5 680.0 C1812.8 693.3 1813.4 718.3 1813.8 730.0 C1814.1 741.7 1814.7 754.2 1815.0 767.5 C1815.3 780.8 1815.9 815.0 1816.2 830.0 C1816.6 845.0 1817.1 866.7 1817.5 880.0 C1817.9 893.3 1819.0 916.7 1819.5 930.0 C1820.0 943.3 1820.8 968.3 1821.2 980.0 C1821.7 991.7 1822.6 1010.8 1823.0 1017.5 C1823.4 1024.2 1823.9 1027.8 1824.2 1030.0 C1824.6 1032.2 1825.2 1034.0 1825.5 1034.0 C1825.8 1034.0 1826.4 1032.2 1826.8 1030.0 C1827.1 1027.8 1827.6 1024.2 1828.0 1017.5 C1828.4 1010.8 1829.5 991.7 1830.0 980.0 C1830.5 968.3 1831.5 943.3 1832.0 930.0 C1832.5 916.7 1833.2 893.3 1833.8 880.0 C1834.3 866.7 1835.5 843.3 1836.2 830.0 C1837.0 816.7 1839.0 790.0 1839.5 780.0 C1840.0 770.0 1839.6 763.3 1840.0 755.0 C1840.4 746.7 1841.8 726.8 1842.5 717.5 C1843.2 708.2 1844.3 692.3 1845.0 685.0 C1845.7 677.7 1846.7 668.2 1847.5 662.5 C1848.3 656.8 1850.2 646.8 1851.2 642.5 C1852.2 638.2 1854.0 633.3 1855.0 630.0 C1856.0 626.7 1857.9 621.5 1858.8 617.5 C1859.6 613.5 1860.7 604.0 1861.2 600.0 C1861.8 596.0 1862.5 589.4 1863.0 587.5 C1863.5 585.6 1864.4 584.2 1865.0 585.5 C1865.6 586.8 1867.0 591.6 1867.5 597.5 C1868.0 603.4 1868.3 619.0 1868.8 630.0 C1869.2 641.0 1870.0 666.7 1870.5 680.0 C1871.0 693.3 1872.0 718.3 1872.5 730.0 C1873.0 741.7 1874.0 754.2 1874.2 767.5 C1874.5 780.8 1874.1 815.0 1874.2 830.0 C1874.4 845.0 1875.2 866.7 1875.5 880.0 C1875.8 893.3 1876.4 916.7 1876.8 930.0 C1877.1 943.3 1877.6 968.3 1878.0 980.0 C1878.4 991.7 1879.2 1010.7 1879.5 1017.5 C1879.8 1024.3 1880.0 1028.9 1880.2 1031.2 C1880.5 1033.6 1880.8 1035.0 1881.0 1035.0 C1881.2 1035.0 1881.5 1033.6 1881.8 1031.2 C1882.0 1028.9 1882.2 1024.3 1882.5 1017.5 C1882.8 1010.7 1883.6 991.7 1884.0 980.0 C1884.4 968.3 1885.3 943.3 1885.8 930.0 C1886.2 916.7 1886.7 893.3 1887.0 880.0 C1887.3 866.7 1887.9 843.3 1888.2 830.0 C1888.6 816.7 1888.9 790.0 1889.5 780.0 C1890.1 770.0 1891.8 763.3 1892.5 755.0 C1893.2 746.7 1894.3 727.5 1895.0 717.5 C1895.7 707.5 1896.9 690.0 1897.5 680.0 C1898.1 670.0 1899.0 652.5 1899.5 642.5 C1900.0 632.5 1900.8 614.0 1901.2 605.0 C1901.7 596.0 1902.3 580.7 1903.0 575.0 C1903.7 569.3 1905.2 565.0 1906.2 562.5 C1907.3 560.0 1910.1 558.6 1911.2 556.2 C1912.4 553.9 1914.1 548.5 1915.0 545.0 C1915.9 541.5 1917.2 532.7 1918.0 530.0 C1918.8 527.3 1920.0 525.5 1921.2 525.0 C1922.5 524.5 1926.0 526.8 1927.5 526.2 C1929.0 525.8 1931.3 523.4 1932.5 521.2 C1933.7 519.1 1935.2 513.2 1936.2 510.0 C1937.2 506.8 1939.0 500.8 1940.0 497.5 C1941.0 494.2 1942.8 487.2 1943.8 485.0 C1944.8 482.8 1946.3 480.9 1947.5 481.2 C1948.7 481.6 1951.2 485.6 1952.5 487.5 C1953.8 489.4 1956.3 494.3 1957.5 495.5 C1958.7 496.7 1960.2 497.3 1961.2 496.2 C1962.2 495.2 1964.0 490.3 1965.0 487.5 C1966.0 484.7 1967.8 478.2 1968.8 475.0 C1969.8 471.8 1971.5 465.8 1972.5 463.8 C1973.5 461.7 1974.8 460.0 1976.2 459.5 C1977.8 459.0 1982.1 460.6 1983.8 460.0 C1985.4 459.4 1987.4 457.3 1988.8 455.0 C1990.1 452.7 1992.4 444.8 1993.8 442.5 C1995.1 440.2 1997.4 438.3 1998.8 437.5 C2000.1 436.7 2002.6 436.1 2003.8 436.2 C2004.9 436.4 2006.6 436.9 2007.5 438.8 C2008.4 440.6 2009.8 445.5 2010.5 450.0 C2011.2 454.5 2012.3 465.2 2013.0 472.5 C2013.7 479.8 2014.8 496.7 2015.5 505.0 C2016.2 513.3 2017.3 527.7 2018.0 535.0 C2018.7 542.3 2019.7 554.9 2020.5 560.0 C2021.3 565.1 2022.9 572.3 2023.8 573.0 C2024.6 573.7 2026.2 568.4 2027.0 565.0 C2027.8 561.6 2029.1 552.8 2030.0 547.5 C2030.9 542.2 2032.8 530.7 2033.8 525.0 C2034.8 519.3 2036.5 509.2 2037.5 505.0 C2038.5 500.8 2040.4 495.5 2041.2 493.8 C2042.1 492.0 2042.9 491.6 2043.8 491.8 C2044.6 491.9 2046.3 493.2 2047.5 495.0 C2048.7 496.8 2051.3 501.7 2052.5 505.0 C2053.7 508.3 2055.2 516.0 2056.2 520.0 C2057.2 524.0 2058.8 532.0 2060.0 535.0 C2061.2 538.0 2063.8 542.0 2065.0 542.5 C2066.2 543.0 2067.6 541.1 2068.8 538.8 C2069.9 536.4 2072.4 527.9 2073.8 525.0 C2075.1 522.1 2077.2 518.5 2078.8 517.0 C2080.2 515.5 2083.5 513.9 2085.0 513.8 C2086.5 513.6 2088.5 514.8 2090.0 516.2 C2091.5 517.8 2094.8 523.1 2096.2 525.0 C2097.8 526.9 2100.1 529.8 2101.2 530.8 C2102.4 531.7 2103.8 532.4 2105.0 532.0 C2106.2 531.6 2108.5 529.3 2110.0 527.5 C2111.5 525.7 2114.8 520.9 2116.2 518.8 C2117.8 516.6 2120.2 512.6 2121.2 511.2 C2122.3 509.9 2122.9 508.5 2123.8 509.0 C2124.6 509.5 2126.8 511.4 2127.6 515.0 C2128.4 518.6 2129.2 530.3 2129.8 536.2 C2130.4 542.1 2131.5 554.1 2132.1 558.9 C2132.7 563.7 2133.7 570.2 2134.4 572.5 C2135.0 574.8 2136.2 577.1 2136.9 576.3 C2137.7 575.5 2139.0 570.8 2139.7 566.5 C2140.3 562.1 2141.4 548.6 2141.9 543.8 C2142.4 538.9 2143.0 532.4 2143.5 530.1 C2143.9 527.9 2144.8 526.3 2145.4 527.1 C2146.0 527.9 2147.4 532.0 2148.0 536.2 C2148.6 540.4 2149.5 554.3 2150.0 558.9 C2150.5 563.5 2151.3 569.1 2151.8 571.0 C2152.3 572.9 2153.0 574.3 2153.6 573.3 C2154.2 572.3 2155.7 567.4 2156.3 563.4 C2157.0 559.5 2158.1 550.4 2158.6 543.8 C2159.1 537.1 2159.7 521.6 2160.1 513.5 C2160.5 505.4 2161.2 490.3 2161.6 483.2 C2162.0 476.2 2162.6 465.6 2163.1 460.5 C2163.6 455.5 2164.7 447.9 2165.4 445.4 C2166.1 442.9 2167.5 441.9 2168.4 441.9 C2169.3 441.9 2171.2 444.7 2172.2 445.4 C2173.2 446.1 2175.0 447.4 2176.0 447.4 C2177.0 447.4 2178.7 446.4 2179.8 445.4 C2180.9 444.4 2183.3 441.5 2184.3 440.1 C2185.3 438.7 2186.5 435.8 2187.3 434.8 C2188.1 433.9 2189.6 432.8 2190.4 433.0 C2191.2 433.2 2192.7 434.7 2193.4 436.3 C2194.1 438.0 2195.2 442.2 2195.7 445.4 C2196.2 448.6 2196.7 456.5 2197.2 460.5 C2197.7 464.6 2198.8 471.6 2199.4 475.7 C2200.1 479.7 2201.2 487.6 2201.7 490.8 C2202.2 494.0 2202.7 498.5 2203.2 499.9 C2203.7 501.3 2204.8 501.9 2205.5 501.1 C2206.2 500.3 2207.8 496.6 2208.5 493.8 C2209.2 491.0 2210.2 483.6 2210.8 480.2 C2211.4 476.8 2212.5 470.3 2213.1 468.1 C2213.7 465.9 2214.7 464.3 2215.3 463.6 C2215.9 462.9 2216.9 462.2 2217.6 462.8 C2218.3 463.4 2219.8 466.4 2220.6 468.1 C2221.4 469.8 2222.8 473.8 2223.7 475.7 C2224.6 477.5 2226.4 480.5 2227.4 481.7 C2228.5 482.9 2230.4 483.1 2231.2 484.7 C2232.0 486.4 2233.0 490.6 2233.5 493.8 C2234.0 497.1 2234.6 504.3 2235.0 509.0 C2235.4 513.6 2236.0 523.0 2236.5 528.6 C2237.0 534.3 2238.2 545.7 2238.8 551.3 C2239.4 557.0 2240.5 566.6 2241.1 571.0 C2241.7 575.4 2242.8 582.5 2243.3 584.6 C2243.8 586.7 2244.3 587.3 2244.8 586.9 C2245.4 586.5 2246.5 584.7 2247.1 581.6 C2247.7 578.5 2248.9 568.3 2249.4 563.4 C2249.9 558.6 2250.4 548.7 2250.9 545.3 C2251.4 541.8 2252.3 538.9 2252.9 537.7 C2253.4 536.5 2254.4 535.8 2255.0 536.2 C2255.5 536.6 2256.4 537.7 2257.0 540.7 C2257.5 543.8 2258.6 553.5 2259.2 558.9 C2259.8 564.3 2260.9 575.9 2261.5 581.6 C2262.1 587.2 2263.2 597.4 2263.8 601.3 C2264.4 605.1 2265.4 609.3 2266.0 610.4 C2266.6 611.4 2267.6 610.7 2268.3 608.8 C2269.0 607.0 2270.5 600.8 2271.3 596.7 C2272.1 592.7 2273.6 583.0 2274.4 578.6 C2275.2 574.1 2276.6 566.7 2277.4 563.4 C2278.2 560.2 2279.5 556.1 2280.4 554.4 C2281.3 552.6 2283.2 550.3 2284.2 550.1 C2285.2 549.9 2287.0 551.7 2288.0 552.8 C2289.0 554.0 2290.8 557.6 2291.8 558.9 C2292.8 560.2 2294.5 562.6 2295.5 562.7 C2296.6 562.8 2298.3 560.8 2299.3 559.7 C2300.3 558.5 2302.1 554.5 2303.1 554.1 C2304.1 553.7 2306.0 555.0 2306.9 556.6 C2307.8 558.3 2309.2 563.1 2309.9 566.5 C2310.6 569.8 2311.5 577.6 2312.2 581.6 C2312.9 585.6 2314.4 593.6 2315.2 596.7 C2316.0 599.9 2317.4 603.8 2318.2 605.1 C2319.1 606.3 2320.4 606.6 2321.3 606.1 C2322.2 605.6 2323.9 602.7 2325.1 601.3 C2326.2 599.9 2328.5 596.1 2329.6 595.7 C2330.7 595.3 2332.3 596.9 2333.4 598.2 C2334.5 599.6 2336.7 603.8 2337.9 605.8 C2339.1 607.8 2341.2 611.6 2342.5 613.4 C2343.7 615.2 2345.8 618.3 2347.0 619.4 C2348.2 620.6 2350.3 622.0 2351.5 622.0 C2352.7 622.0 2355.0 621.0 2356.1 619.4 C2357.2 617.9 2359.0 613.2 2359.9 610.4 C2360.8 607.5 2362.1 601.7 2362.9 598.2 C2363.7 594.8 2365.1 587.4 2365.9 584.6 C2366.7 581.8 2368.0 578.4 2368.9 577.1 C2369.8 575.7 2372.2 575.1 2372.7 574.8"/>
</g>
<g id="guides">
<path class="ds" d="M830 184.3 V1488.5"/>
<path class="ds" style="stroke-dasharray:18.60 17.09" d="M1827.1 181.0 V1488.5"/>
<path class="ds" d="M1880.9 179.0 V1488.5"/>
<path class="ds" style="stroke-dasharray:18.60 17.06 36.15 17.06 18.60 17.06 18.60 17.06 18.60 17.06 18.60 17.06 18.60 17.06 18.60 17.06 18.60 17.06 18.60 17.06 18.60 17.06 18.60 17.06 18.60 17.06 18.60 17.06 18.60 17.06 18.60 17.06 18.60 17.06 18.60 17.06 18.60 17.06 18.60 17.06 18.60 17.06 18.60 17.06 18.60 17.06 18.60 17.06 18.60 17.06 18.60 17.06 18.60 17.06 18.60 17.06 18.60 17.06 18.60 17.06 18.60 17.06 18.60 17.06 18.60 17.06 18.60 17.06 18.60 17.06 18.60 17.06 18.60 17.06 18.60 17.06 18.60 17.06 18.60 17.06 18.60 17.06 18.60 17.06;stroke-linejoin:round" d="M2121.6 182.5 L2135.0 234.0 V1488.5"/>
<path class="ds" style="stroke-dasharray:18.60 17.06 36.83 17.06 18.60 17.06 18.60 17.06 18.60 17.06 18.60 17.06 18.60 17.06 18.60 17.06 18.60 17.06 18.60 17.06 18.60 17.06 18.60 17.06 18.60 17.06 18.60 17.06 18.60 17.06 18.60 17.06 18.60 17.06 18.60 17.06 18.60 17.06 18.60 17.06 18.60 17.06 18.60 17.06 18.60 17.06 18.60 17.06 18.60 17.06 18.60 17.06 18.60 17.06 18.60 17.06 18.60 17.06 18.60 17.06 18.60 17.06 18.60 17.06 18.60 17.06 18.60 17.06 18.60 17.06 18.60 17.06 18.60 17.06 18.60 17.06 18.60 17.06 18.60 17.06 18.60 17.06 18.60 17.06;stroke-linejoin:round" d="M2171.4 180.6 L2158.0 232.8 V1488.5"/>
</g>
<g id="labels">
<text class="lb" transform="translate(126.00 262.70) scale(1.0386 1)" fill="#f00">DPP-T/PP</text>
<text class="lb" transform="translate(129.20 964.80) scale(1.0386 1)" fill="#000">DPP-UT/PP</text>
<text class="pk" transform="translate(854.41 169.06) rotate(-90) scale(0.9272 1)">2915</text>
<text class="pk" transform="translate(1841.01 169.47) rotate(-90) scale(0.9019 1)">1458</text>
<text class="pk" transform="translate(1904.61 168.73) rotate(-90) scale(0.8965 1)">1375</text>
<text class="pk" transform="translate(2130.21 168.68) rotate(-90) scale(0.9121 1)">996</text>
<text class="pk" transform="translate(2202.41 165.89) rotate(-90) scale(0.9179 1)">972</text>
</g>
</svg>
</body></html>
